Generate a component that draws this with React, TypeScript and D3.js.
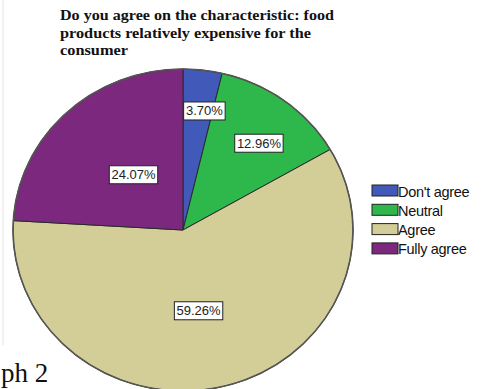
import React from "react";
import * as d3 from "d3";

const categories = ["Don't agree", "Neutral", "Agree", "Fully agree"];
const values = [3.70, 12.96, 59.26, 24.07];
const labels = ["3.70%", "12.96%", "59.26%", "24.07%"];
const colors = ["#4159b8", "#2eb84c", "#d3ce97", "#7c287e"];
const titleLines = [
  "Do you agree on the characteristic:  food",
  "products relatively expensive for the",
  "consumer",
];
const titleWidths = [274, 251, 68];
const labelRadius = [0.75, 0.7, 0.51, 0.45];
const caption = "ph 2";

const W = 482;
const H = 389;
const cx = 183;
const cy = 230;
const rx = 170;
const ry = 161;

export default function App() {
  const pie = d3.pie<number>().sort(null).value((d) => d).startAngle(0).endAngle(2 * Math.PI);
  const arcs = pie(values);
  const arc = d3.arc<d3.PieArcDatum<number>>().innerRadius(0).outerRadius(rx);

  return (
    <svg width={W} height={H} style={{ position: "absolute", left: 0, top: 0, background: "#fff" }}>
      <line x1={3} y1={0} x2={3} y2={345} stroke="#e2e2e2" strokeWidth={1} />
      {titleLines.map((t, i) => (
        <text
          key={i}
          x={60}
          y={20 + i * 17.7}
          fontFamily="'Liberation Serif', 'DejaVu Serif', serif"
          fontWeight="bold"
          fontSize={14.5}
          fill="#111"
          textLength={titleWidths[i]}
          lengthAdjust="spacingAndGlyphs"
        >
          {t}
        </text>
      ))}
      <g transform={`translate(${cx},${cy}) scale(1,${ry / rx})`}>
        {arcs.map((a, i) => (
          <path
            key={i}
            d={arc(a) || ""}
            fill={colors[i]}
            stroke="#2a2a2a"
            strokeWidth={1}
            vectorEffect="non-scaling-stroke"
          />
        ))}
        <ellipse cx={0} cy={0} rx={rx} ry={rx} fill="none" stroke="#555" strokeWidth={1.6} vectorEffect="non-scaling-stroke" />
      </g>
      {arcs.map((a, i) => {
        const mid = (a.startAngle + a.endAngle) / 2 + (3 * Math.PI) / 180;
        const x = cx + labelRadius[i] * rx * Math.sin(mid);
        const y = cy - labelRadius[i] * ry * Math.cos(mid);
        const w = labels[i].length * 6.9 + 7;
        return (
          <g key={i}>
            <rect x={x - w / 2} y={y - 9} width={w} height={18} fill="#fff" stroke="#222" strokeWidth={1} />
            <text
              x={x}
              y={y + 4.5}
              textAnchor="middle"
              fontFamily="'Liberation Sans', Arial, sans-serif"
              fontSize={13}
              fill="#222"
            >
              {labels[i]}
            </text>
          </g>
        );
      })}
      {categories.map((c, i) => (
        <g key={c} transform={`translate(372,${185 + i * 19.3})`}>
          <rect x={0} y={0} width={26} height={11} fill={colors[i]} stroke="#222" strokeWidth={1} />
          <text
            x={26}
            y={11.5}
            fontFamily="'Liberation Sans', Arial, sans-serif"
            fontSize={14.5}
            fill="#111"
            letterSpacing={-0.3}
          >
            {c}
          </text>
        </g>
      ))}
      <text
        x={1}
        y={382}
        fontFamily="'Liberation Serif', 'Times New Roman', serif"
        fontSize={27}
        fill="#111"
      >
        {caption}
      </text>
    </svg>
  );
}
